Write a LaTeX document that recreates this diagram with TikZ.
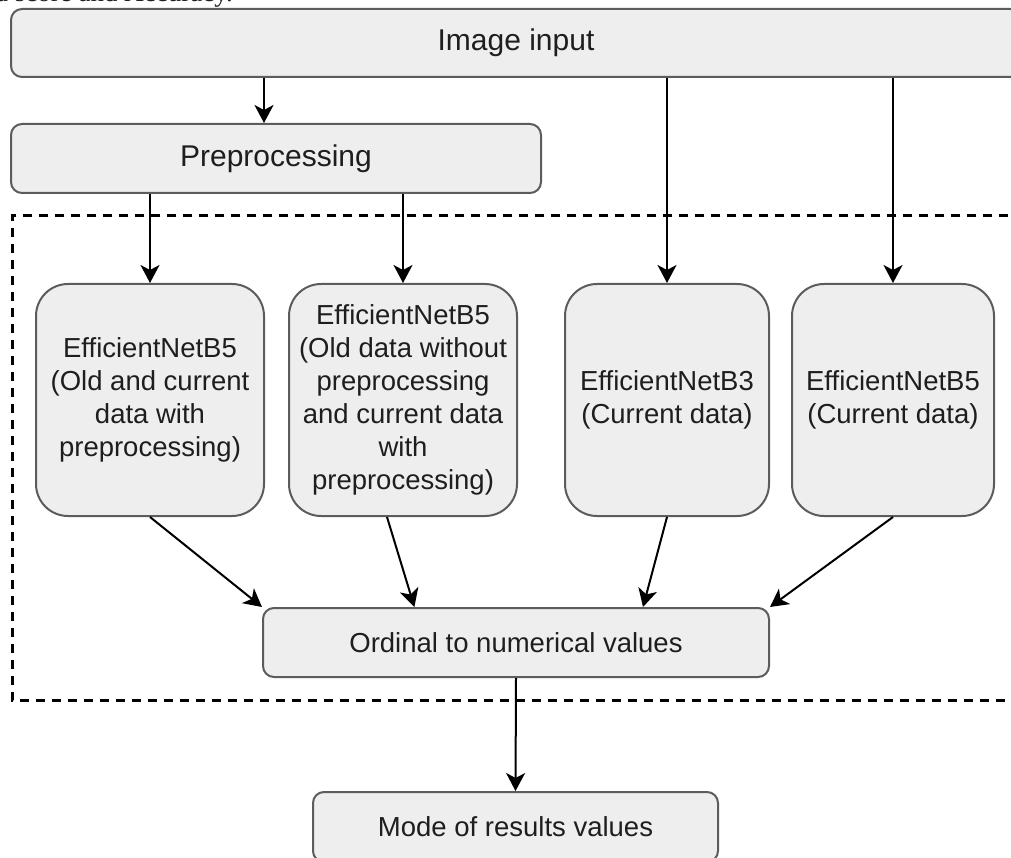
\documentclass[tikz,border=0pt]{standalone}
\usepackage{fontspec}
\setmainfont{Liberation Sans}
\newfontfamily\capfont{Liberation Serif}
\usetikzlibrary{arrows.meta,calc}
\definecolor{boxfill}{HTML}{EEEEEE}
\definecolor{boxline}{HTML}{5C5C5C}
\definecolor{txt}{HTML}{1E1E1E}
\tikzset{
  flowbox/.style={draw=boxline, line width=2pt, fill=boxfill, rounded corners=11pt,
    inner sep=0pt, align=center, text=txt,
    font=\fontsize{27.5}{33}\selectfont},
  topbox/.style={flowbox, font=\fontsize{30}{36}\selectfont},
  tallbox/.style={flowbox, rounded corners=32pt},
  arr/.style={draw=black, line width=2pt,
    -{Stealth[length=18pt,width=19pt,inset=5pt]}},
  frame/.style={draw=black, line width=3pt, dash pattern=on 9pt off 7pt}
}
\begin{document}
\begin{tikzpicture}[x=1pt,y=-1pt]
\useasboundingbox (0,0) rectangle (1011,858);
\clip (0,0) rectangle (1011,858);
\fill[white] (0,0) rectangle (1011,858);

% cut-off caption line at the top
\node[anchor=base east, inner sep=0pt, font=\capfont\fontsize{27}{32}\selectfont, text=txt]
  (cap) at (233,2) {d score and Accuracy.};

% dashed frame
\draw[frame] (1040,216) -- (12,216) -- (12,700) -- (1040,700);

% nodes
\node[topbox, minimum width=1010pt, minimum height=68pt] (img) at (516,43) {Image input};
\node[topbox, minimum width=530pt, minimum height=69pt] (pre) at (276,158.5) {Preprocessing};

\node[tallbox, minimum width=228pt, minimum height=232pt] (b1) at (150,400)
  {EfficientNetB5\\(Old and current\\data with\\preprocessing)};
\node[tallbox, minimum width=228pt, minimum height=232pt] (b2) at (403,400)
  {EfficientNetB5\\(Old data without\\preprocessing\\and current data\\with\\preprocessing)};
\node[tallbox, minimum width=204pt, minimum height=232pt] (b3) at (667,400)
  {EfficientNetB3\\(Current data)};
\node[tallbox, minimum width=202pt, minimum height=232pt] (b4) at (893,400)
  {EfficientNetB5\\(Current data)};

\node[flowbox, minimum width=506pt, minimum height=69pt] (ord) at (516,642.5) {Ordinal to numerical values};
\node[flowbox, minimum width=405pt, minimum height=70pt] (mode) at (515.5,827) {Mode of results values};

% connectors
\draw[arr] ([xshift=-12pt]pre.north |- img.south) -- ([xshift=-12pt]pre.north);
\draw[arr] (pre.south -| b1.north) -- (b1.north);
\draw[arr] (pre.south -| b2.north) -- (b2.north);
\draw[arr] (img.south -| b3.north) -- (b3.north);
\draw[arr] (img.south -| b4.north) -- (b4.north);

\draw[arr] (b1.south) -- (ord.north west);
\draw[arr] ([xshift=-16pt]b2.south) -- ($(ord.north west)!0.3!(ord.north east)$);
\draw[arr] (b3.south) -- ($(ord.north west)!0.75!(ord.north east)$);
\draw[arr] (b4.south) -- (ord.north east);

\draw[arr] (ord.south) -- (mode.north);
\end{tikzpicture}
\end{document}
